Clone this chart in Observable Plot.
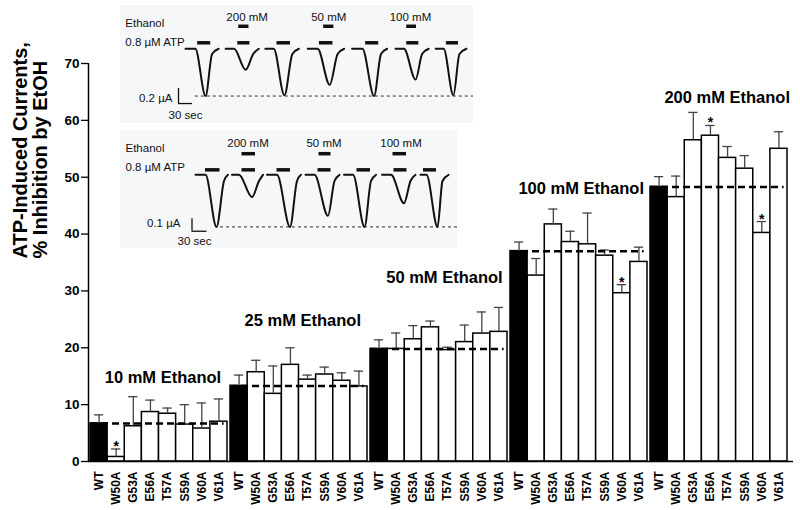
<!DOCTYPE html>
<html>
<head>
<meta charset="utf-8">
<script src="https://cdn.jsdelivr.net/npm/d3@7"></script>
<script src="https://cdn.jsdelivr.net/npm/@observablehq/plot@0.6"></script>
<style>
  body { margin: 0; background: #fff; }
  #chart { position: relative; width: 800px; height: 510px; overflow: hidden; }
  #chart svg.inset { position: absolute; }
</style>
</head>
<body>
<div id="chart"></div>
<script>
// ---------------- data ----------------
const groups = ["10 mM Ethanol", "25 mM Ethanol", "50 mM Ethanol", "100 mM Ethanol", "200 mM Ethanol"];
const mutants = ["WT", "W50A", "G53A", "E56A", "T57A", "S59A", "V60A", "V61A"];

const mean10  = [6.7, 0.8, 6.2, 8.7, 8.4, 6.5, 5.8, 7.0];
const sem10   = [1.5, 1.4, 5.2, 2.1, 1.0, 3.5, 4.5, 4.0];
const mean25  = [13.3, 15.7, 11.9, 17.0, 14.4, 15.3, 14.2, 13.2];
const sem25   = [1.9, 2.1, 4.9, 3.0, 0.8, 1.3, 1.4, 2.7];
const mean50  = [19.8, 19.8, 21.5, 23.6, 19.6, 21.0, 22.5, 22.8];
const sem50   = [1.6, 2.8, 2.4, 1.1, 0.5, 3.0, 3.8, 4.3];
const mean100 = [37.0, 32.7, 41.7, 38.6, 38.2, 36.2, 29.6, 35.1];
const sem100  = [1.6, 3.0, 2.7, 1.9, 5.5, 1.0, 1.5, 2.6];
const mean200 = [48.3, 46.5, 56.5, 57.3, 53.4, 51.5, 40.2, 55.0];
const sem200  = [1.8, 3.7, 4.9, 1.8, 2.0, 2.3, 2.0, 3.0];

const sig10 = ["W50A"];
const sig25 = [];
const sig50 = [];
const sig100 = ["V60A"];
const sig200 = ["E56A", "V60A"];

const yTicks = [0, 10, 20, 30, 40, 50, 60, 70];
const yTitle = ["ATP-Induced Currents,", "% Inhibition by EtOH"];

// inset traces: segments of [time (s), current (µA)]
const traceA = [
  [[0, 0], [21, 0], [43, -0.63], [57, -0.07], [71, 0]],
  [[86, 0], [104, 0], [129, -0.28], [145, -0.07], [157, 0]],
  [[171, 0], [189, 0], [212, -0.62], [229, -0.07], [243, 0]],
  [[262, 0], [283, 0], [309, -0.48], [326, -0.07], [340, 0]],
  [[357, 0], [379, 0], [404, -0.63], [419, -0.07], [432, 0]],
  [[450, 0], [468, 0], [493, -0.41], [507, -0.07], [521, 0]],
  [[536, 0], [553, 0], [574, -0.62], [587, -0.07], [602, 0]]
];
const atpA = [[26, 54], [112, 138], [196, 225], [287, 316], [386, 414], [474, 500], [559, 585]];
const ethA = [[114, 136], [296, 318], [474, 495]];
const ethLabelsA = ["200 mM", "50 mM", "100 mM"];
const ethLabelTA = [132, 307, 482];

const traceB = [
  [[0, 0], [20, 0], [42, -0.42], [57, -0.05], [65, 0]],
  [[73, 0], [87, 0], [113, -0.18], [127, -0.05], [135, 0]],
  [[143, 0], [163, 0], [189, -0.42], [203, -0.05], [211, 0]],
  [[220, 0], [238, 0], [265, -0.33], [278, -0.05], [288, 0]],
  [[297, 0], [315, 0], [338, -0.42], [351, -0.05], [361, 0]],
  [[373, 0], [391, 0], [417, -0.23], [430, -0.05], [440, 0]],
  [[450, 0], [462, 0], [484, -0.42], [494, -0.05], [506, 0]]
];
const atpB = [[20, 49], [93, 120], [163, 190], [245, 271], [323, 350], [397, 423], [456, 482]];
const ethB = [[93, 120], [247, 271], [395, 422]];
const ethLabelsB = ["200 mM", "50 mM", "100 mM"];
const ethLabelTB = [105, 257, 411];

// ---------------- layout ----------------
const STRIDE = 8.175;               // group pitch in bar widths
const X0 = -0.117, X1 = 41.05;      // x extent of the axis
const labelPos = [                  // group label placement (offset in bars, height in %)
  {dx: 4.23, y: 14.8}, {dx: 4.22, y: 24.7}, {dx: 4.32, y: 32.3}, {dx: 4.13, y: 48.0}, {dx: 4.48, y: 63.9}
];

const means = [mean10, mean25, mean50, mean100, mean200];
const sems = [sem10, sem25, sem50, sem100, sem200];
const sigs = [sig10, sig25, sig50, sig100, sig200];

const rows = [];
groups.forEach((g, gi) => mutants.forEach((m, mi) => {
  const x1 = gi * STRIDE + mi;
  rows.push({group: g, gi, mutant: m, x1, x2: x1 + 1, xc: x1 + 0.5,
    mean: means[gi][mi], top: means[gi][mi] + sems[gi][mi], sig: sigs[gi].includes(m)});
}));
const wtRows = rows.filter(d => d.mutant === "WT");
const nameByX = new Map(rows.map(d => [d.xc, d.mutant]));
const groupRows = groups.map((g, gi) => ({label: g, x: gi * STRIDE + labelPos[gi].dx, y: labelPos[gi].y}));

const FONT = "'Liberation Sans', Arial, Helvetica, sans-serif";

const main = Plot.plot({
  width: 800, height: 510,
  marginLeft: 88, marginRight: 7, marginTop: 63, marginBottom: 49,
  style: {fontFamily: FONT, fontWeight: "bold", color: "#000", background: "#fff"},
  x: {domain: [X0, X1], axis: null},
  y: {domain: [0, 70], axis: null},
  marks: [
    Plot.rectY(rows.filter(d => d.mutant !== "WT"), {x1: "x1", x2: "x2", y: "mean", fill: "white", stroke: "black", strokeWidth: 1.5}),
    Plot.rectY(wtRows, {x1: "x1", x2: "x2", y: "mean", fill: "black", stroke: "black", strokeWidth: 1.5}),
    Plot.ruleX(rows, {x: "xc", y1: "mean", y2: "top", stroke: "#444", strokeWidth: 1.3}),
    Plot.ruleY(rows, {y: "top", x1: d => d.xc - 0.27, x2: d => d.xc + 0.27, stroke: "#444", strokeWidth: 1.3}),
    Plot.ruleY(wtRows, {y: "mean", x1: "x1", x2: d => d.x1 + 7.8, stroke: "black", strokeWidth: 2.5, strokeDasharray: "7,4"}),
    Plot.text(rows.filter(d => d.sig), {x: "xc", y: "top", text: () => "*", lineAnchor: "bottom", dy: 2, fontSize: 14}),
    Plot.text(groupRows, {x: "x", y: "y", text: "label", fontSize: 16.5}),
    Plot.ruleY([0], {stroke: "black", strokeWidth: 1.5}),
    Plot.ruleX([X0], {y1: 0, y2: 70, stroke: "black", strokeWidth: 1.5}),
    Plot.axisY({ticks: yTicks, tickSize: 7, tickPadding: 2, fontSize: 13.5, label: null, strokeWidth: 1.3}),
    Plot.axisX({ticks: rows.map(d => d.xc), tickFormat: d => nameByX.get(d), tickRotate: -90, tickSize: 0, tickPadding: 10, fontSize: 12, label: null}),
    Plot.text([yTitle[0]], {text: d => d, frameAnchor: "left", dx: -68, dy: -4, rotate: -90, fontSize: 20}),
    Plot.text([yTitle[1]], {text: d => d, frameAnchor: "left", dx: -48, dy: -4, rotate: -90, fontSize: 20})
  ]
});

function flat(trace) {
  const out = [];
  trace.forEach((seg, si) => seg.forEach(([t, i]) => out.push({seg: si, t, i})));
  return out;
}

function inset(o) {
  const svg = Plot.plot({
    width: o.w, height: o.h, margin: 0,
    style: {fontFamily: FONT, background: "#f6f7f9", color: "#111"},
    x: {domain: o.xd, axis: null},
    y: {domain: o.yd, axis: null},
    marks: [
      Plot.ruleY([o.dotY], {x1: o.dotX1, x2: o.xd[1], stroke: "#333", strokeWidth: 1, strokeDasharray: "3,3"}),
      Plot.line(flat(o.trace), {x: "t", y: "i", z: "seg", curve: "monotone-x", stroke: "#111", strokeWidth: 2}),
      Plot.ruleY(o.atp, {y: o.atpY, x1: d => d[0], x2: d => d[1], stroke: "#111", strokeWidth: 3.5}),
      Plot.ruleY(o.eth, {y: o.ethY, x1: d => d[0], x2: d => d[1], stroke: "#111", strokeWidth: 3.5}),
      Plot.text(o.ethLabels, {x: (d, i) => o.ethLabelT[i], y: o.labY, text: d => d, fontSize: 11.5}),
      Plot.text(["Ethanol"], {x: o.textX, y: o.ethTextY, text: d => d, textAnchor: "start", fontSize: 11.5}),
      Plot.text(["0.8 \u00b5M ATP"], {x: o.textX, y: o.atpTextY, text: d => d, textAnchor: "start", fontSize: 11.5}),
      Plot.ruleX([o.sbX], {y1: o.sbY1, y2: o.sbY2, stroke: "#111", strokeWidth: 1.3}),
      Plot.ruleY([o.sbY2], {x1: o.sbX, x2: o.sbX + 30, stroke: "#111", strokeWidth: 1.3}),
      Plot.text([o.ampLabel], {x: o.ampX, y: o.ampY, text: d => d, textAnchor: "end", fontSize: 11.5}),
      Plot.text(["30 sec"], {x: o.secX, y: o.secY, text: d => d, fontSize: 11.5})
    ]
  });
  svg.classList.add("inset");
  svg.style.left = o.left + "px";
  svg.style.top = o.top + "px";
  return svg;
}

const insetA = inset({
  left: 120, top: 5, w: 353, h: 118,
  xd: [-139.3, 617.1], yd: [-0.996, 0.577],
  trace: traceA, atp: atpA, eth: ethA, atpY: 0.08, ethY: 0.30,
  ethLabels: ethLabelsA, ethLabelT: ethLabelTA, labY: 0.42,
  dotY: -0.63, dotX1: 21,
  textX: -129, ethTextY: 0.333, atpTextY: 0.088,
  sbX: -15, sbY1: -0.53, sbY2: -0.73,
  ampLabel: "0.2 \u00b5A", ampX: -28, ampY: -0.66, secX: 0, secY: -0.89
});

const insetB = inset({
  left: 120, top: 130, w: 337, h: 118,
  xd: [-150, 524], yd: [-0.594, 0.357],
  trace: traceB, atp: atpB, eth: ethB, atpY: 0.04, ethY: 0.17,
  ethLabels: ethLabelsB, ethLabelT: ethLabelTB, labY: 0.25,
  dotY: -0.42, dotX1: 50,
  textX: -140, ethTextY: 0.21, atpTextY: 0.061,
  sbX: -7, sbY1: -0.355, sbY2: -0.455,
  ampLabel: "0.1 \u00b5A", ampX: -30, ampY: -0.395, secX: -2, secY: -0.535
});

const chart = document.getElementById("chart");
chart.appendChild(main);
chart.appendChild(insetA);
chart.appendChild(insetB);
</script>
</body>
</html>
